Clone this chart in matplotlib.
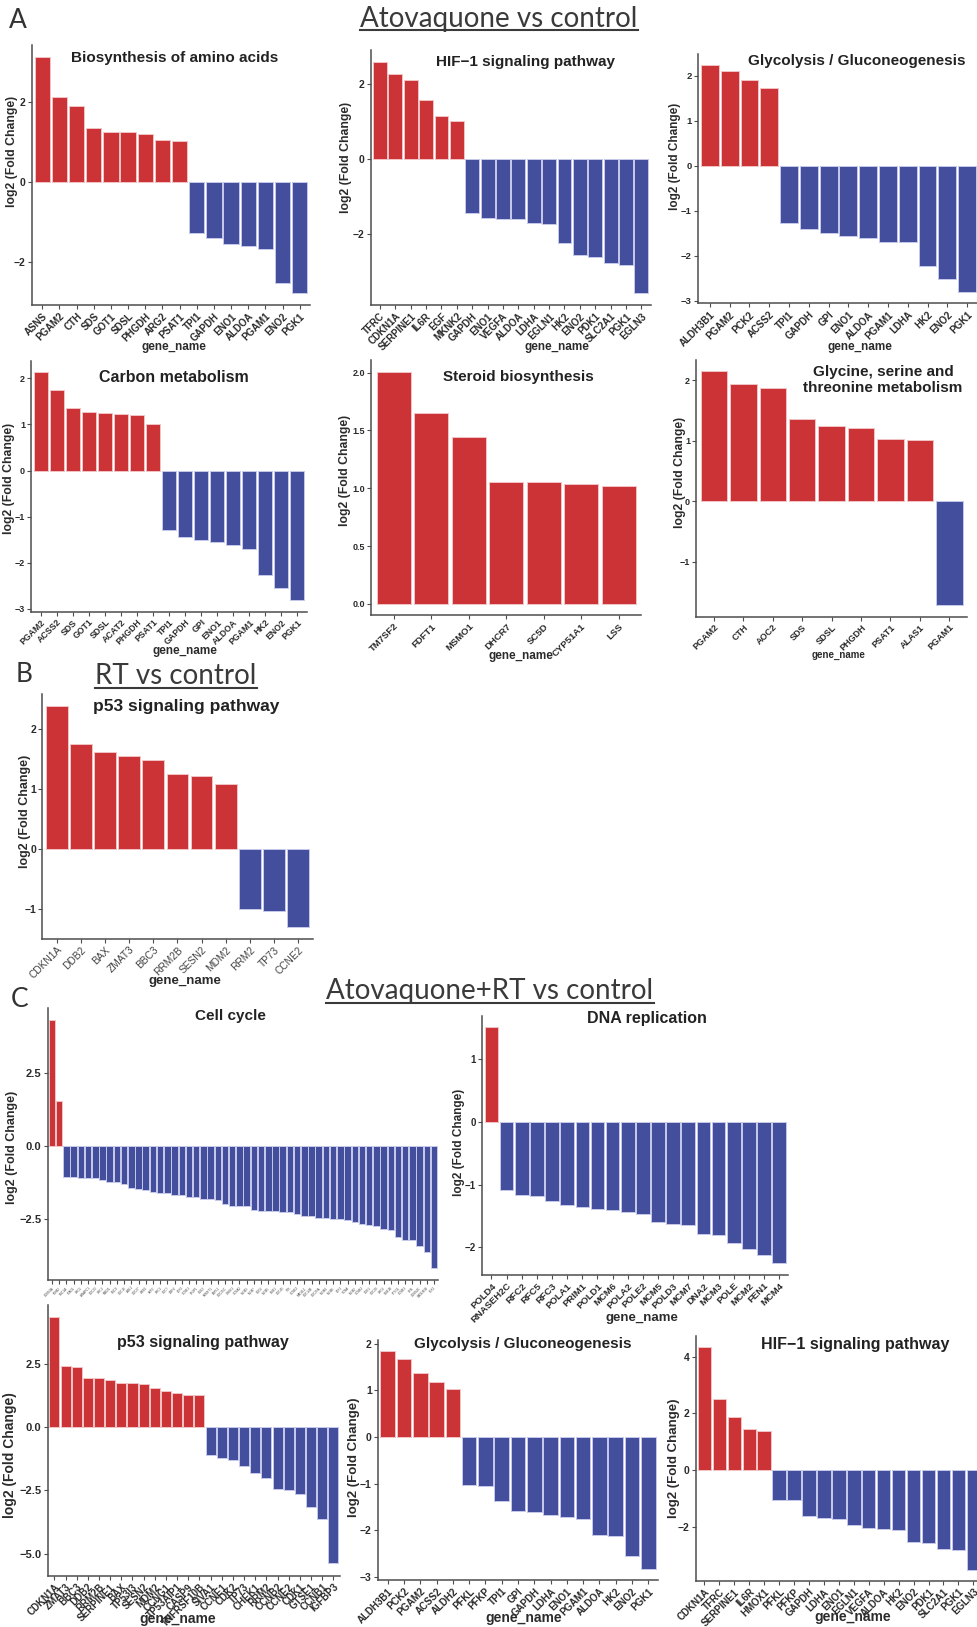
import matplotlib
matplotlib.use('Agg')
import matplotlib.pyplot as plt
from matplotlib.ticker import MultipleLocator, FuncFormatter
from matplotlib.lines import Line2D

plt.rcParams['font.family'] = ['Liberation Sans', 'DejaVu Sans']

# ---- data (log2 fold change) ----
# A: Atovaquone vs control
aa_genes = ['ASNS', 'PGAM2', 'CTH', 'SDS', 'GOT1', 'SDSL', 'PHGDH', 'ARG2', 'PSAT1',
            'TPI1', 'GAPDH', 'ENO1', 'ALDOA', 'PGAM1', 'ENO2', 'PGK1']
aa_lfc = [3.12, 2.12, 1.90, 1.34, 1.25, 1.23, 1.19, 1.03, 1.01,
          -1.28, -1.42, -1.56, -1.60, -1.68, -2.53, -2.79]

hif_genes = ['TFRC', 'CDKN1A', 'SERPINE1', 'IL6R', 'EGF', 'MKNK2', 'GAPDH', 'ENO1', 'VEGFA',
             'ALDOA', 'LDHA', 'EGLN1', 'HK2', 'ENO2', 'PDK1', 'SLC2A1', 'PGK1', 'EGLN3']
hif_lfc = [2.59, 2.25, 2.10, 1.58, 1.13, 1.01, -1.43, -1.57, -1.60,
           -1.60, -1.70, -1.73, -2.24, -2.55, -2.62, -2.77, -2.82, -3.58]

gly_genes = ['ALDH3B1', 'PGAM2', 'PCK2', 'ACSS2', 'TPI1', 'GAPDH', 'GPI', 'ENO1',
             'ALDOA', 'PGAM1', 'LDHA', 'HK2', 'ENO2', 'PGK1']
gly_lfc = [2.23, 2.11, 1.91, 1.73, -1.27, -1.42, -1.50, -1.56,
           -1.60, -1.69, -1.70, -2.24, -2.53, -2.81]

carb_genes = ['PGAM2', 'ACSS2', 'SDS', 'GOT1', 'SDSL', 'ACAT2', 'PHGDH', 'PSAT1', 'TPI1',
              'GAPDH', 'GPI', 'ENO1', 'ALDOA', 'PGAM1', 'HK2', 'ENO2', 'PGK1']
carb_lfc = [2.14, 1.75, 1.35, 1.27, 1.24, 1.23, 1.20, 1.01, -1.29,
            -1.44, -1.50, -1.56, -1.61, -1.70, -2.26, -2.55, -2.81]

ster_genes = ['TM7SF2', 'FDFT1', 'MSMO1', 'DHCR7', 'SC5D', 'CYP51A1', 'LSS']
ster_lfc = [2.006, 1.654, 1.444, 1.058, 1.054, 1.034, 1.017]

gst_genes = ['PGAM2', 'CTH', 'AOC2', 'SDS', 'SDSL', 'PHGDH', 'PSAT1', 'ALAS1', 'PGAM1']
gst_lfc = [2.15, 1.93, 1.87, 1.36, 1.25, 1.21, 1.03, 1.02, -1.71]

# B: RT vs control
rt_p53_genes = ['CDKN1A', 'DDB2', 'BAX', 'ZMAT3', 'BBC3', 'RRM2B', 'SESN2', 'MDM2',
                'RRM2', 'TP73', 'CCNE2']
rt_p53_lfc = [2.39, 1.755, 1.617, 1.55, 1.49, 1.255, 1.21, 1.09, -1.0, -1.033, -1.31]

# C: Atovaquone+RT vs control
cc_genes = ['CDKN1A', 'MDM2',
            'SMC1A', 'STAG1', 'ORC5', 'ANAPC1', 'CDC23', 'ORC2', 'RAD21', 'SMC3', 'CDC16',
            'ABL1', 'CDC27', 'WEE1', 'SKP2', 'ORC1', 'CDC7', 'DBF4', 'E2F2', 'CCNE1',
            'TFDP1', 'CDK2', 'PKMYT1', 'ESPL1', 'CDC25C', 'CHEK1', 'CCNA2', 'MCM3', 'MCM7',
            'CDC6', 'MCM5', 'BUB1', 'CDC45', 'TTK', 'CCNE2', 'MAD2L1', 'CDC14B', 'CDC25A',
            'MCM4', 'MCM6', 'E2F1', 'PCNA', 'MCM2', 'CCNB2', 'CDK1', 'CDC20', 'ORC6',
            'BUB1B', 'PTTG1', 'CCNB1', 'SFN', 'CDKN2C', 'GADD45B', 'PLK1']
cc_lfc = [4.30, 1.55,
          -1.04, -1.04, -1.07, -1.07, -1.10, -1.17, -1.21, -1.24, -1.29, -1.43,
          -1.47, -1.50, -1.55, -1.60, -1.60, -1.67, -1.67, -1.72, -1.75, -1.81,
          -1.81, -1.83, -1.96, -2.03, -2.04, -2.06, -2.18, -2.20, -2.20, -2.22,
          -2.24, -2.26, -2.31, -2.39, -2.39, -2.46, -2.47, -2.49, -2.49, -2.51,
          -2.58, -2.65, -2.69, -2.74, -2.83, -2.86, -3.11, -3.20, -3.22, -3.41,
          -3.63, -4.15]

dna_genes = ['POLD4', 'RNASEH2C', 'RFC2', 'RFC5', 'RFC3', 'POLA1', 'PRIM1', 'POLD1', 'MCM6',
             'POLA2', 'POLE2', 'MCM5', 'POLD3', 'MCM7', 'DNA2', 'MCM3', 'POLE', 'MCM2',
             'FEN1', 'MCM4']
dna_lfc = [1.50, -1.09, -1.17, -1.18, -1.26, -1.32, -1.35, -1.38, -1.41,
           -1.44, -1.47, -1.60, -1.62, -1.65, -1.78, -1.80, -1.93, -2.02,
           -2.12, -2.25]

c_p53_genes = ['CDKN1A', 'ZMAT3', 'BBC3', 'DDB2', 'RRM2B', 'SERPINE1', 'BAX', 'TP53I3',
               'SESN2', 'MDM2', 'CCNG1', 'TP53AIP1', 'CASP9', 'TNFRSF10B', 'SIVA1',
               'CCNE1', 'CDK2', 'TP73', 'CHEK1', 'RRM2', 'CCNB2', 'CCNE2', 'CDK1',
               'GTSE1', 'CCNB1', 'IGFBP3']
c_p53_lfc = [4.34, 2.43, 2.39, 1.96, 1.95, 1.88, 1.76, 1.75, 1.72, 1.56, 1.42, 1.34,
             1.275, 1.26, -1.10, -1.21, -1.28, -1.52, -1.79, -2.00, -2.44, -2.49,
             -2.65, -3.17, -3.62, -5.38]

c_gly_genes = ['ALDH3B1', 'PCK2', 'PGAM2', 'ACSS2', 'ALDH2', 'PFKL', 'PFKP', 'TPI1', 'GPI',
               'GAPDH', 'LDHA', 'ENO1', 'PGAM1', 'ALDOA', 'HK2', 'ENO2', 'PGK1']
c_gly_lfc = [1.845, 1.68, 1.367, 1.18, 1.02, -1.037, -1.05, -1.373, -1.595,
             -1.616, -1.68, -1.717, -1.76, -2.103, -2.125, -2.554, -2.833]

c_hif_genes = ['CDKN1A', 'TFRC', 'SERPINE1', 'IL6R', 'HMOX1', 'PFKL', 'PFKP', 'GAPDH',
               'LDHA', 'ENO1', 'EGLN1', 'VEGFA', 'ALDOA', 'HK2', 'ENO2', 'PDK1',
               'SLC2A1', 'PGK1', 'EGLN3']
c_hif_lfc = [4.33, 2.50, 1.87, 1.44, 1.37, -1.03, -1.03, -1.60, -1.66, -1.695,
             -1.905, -2.02, -2.07, -2.09, -2.525, -2.56, -2.77, -2.81, -3.48]

# ---- styling ----
W, H = 977, 1627
RED, BLUE = '#CB3337', '#434F9D'
RED_EDGE, BLUE_EDGE = '#F2C4C6', '#C6C9E8'
AXC = '#4d4d4d'
TXT = '#2b2b2b'

fig = plt.figure(figsize=(W / 100, H / 100), dpi=100)


def fx(x):
    return x / W


def fy(y):
    return 1 - y / H


def fmt_tick(fmt):
    def f(v, p):
        if abs(v) < 1e-9:
            v = 0.0
        return (fmt % v).replace('-', '\u2212')
    return FuncFormatter(f)


def bar_panel(box, genes, lfc, title, tpos, ylpos, xlpos, step, fmt='%d',
              tsize=11, xts=7, yts=7.5, yls=8.8, xls=8.5, xtw='bold', xtc=TXT):
    l, t, r, b = box
    ax = fig.add_axes([fx(l), fy(b), (r - l) / W, (b - t) / H])
    xs = range(len(genes))
    cols = [RED if v > 0 else BLUE for v in lfc]
    edges = [RED_EDGE if v > 0 else BLUE_EDGE for v in lfc]
    ax.bar(xs, lfc, width=0.9, color=cols, edgecolor=edges, linewidth=0.7)
    lo, hi = min(0, min(lfc)), max(0, max(lfc))
    pad = 0.05 * (hi - lo)
    ax.set_ylim(lo - pad, hi + pad)
    ax.set_xlim(-0.6, len(genes) - 0.4)

    for s in ('top', 'right'):
        ax.spines[s].set_visible(False)
    for s in ('left', 'bottom'):
        ax.spines[s].set_color(AXC)
        ax.spines[s].set_linewidth(1.1)
    ax.tick_params(colors=AXC, length=3, width=0.8, pad=1.5)
    ax.yaxis.set_major_locator(MultipleLocator(step))
    ax.yaxis.set_major_formatter(fmt_tick(fmt))
    for lab in ax.get_yticklabels():
        lab.set_fontsize(yts)
        lab.set_fontweight('bold')
        lab.set_color(TXT)
    ax.set_xticks(list(xs))
    ax.set_xticklabels(genes, rotation=45, ha='right', rotation_mode='anchor',
                       fontsize=xts, fontweight=xtw, color=xtc)

    ax.set_ylabel('log2 (Fold Change)', fontsize=yls, fontweight='bold', color=TXT,
                  va='center')
    ax.yaxis.set_label_coords(fx(ylpos[0]), fy(ylpos[1]), transform=fig.transFigure)
    ax.set_xlabel('gene_name', fontsize=xls, fontweight='bold', color=TXT, va='center')
    ax.xaxis.set_label_coords(fx(xlpos[0]), fy(xlpos[1]), transform=fig.transFigure)

    fig.text(fx(tpos[0]), fy(tpos[1]), title, ha='center', va='center', fontsize=tsize,
             fontweight='bold', color='#222222', linespacing=1.25)
    return ax


# ---- row A1 ----
bar_panel((32, 45, 310, 305), aa_genes, aa_lfc, 'Biosynthesis of amino acids',
          (175, 58), (12, 151), (174, 347), 2)
bar_panel((370.7, 50, 650.6, 305), hif_genes, hif_lfc, 'HIF\u22121 signaling pathway',
          (525, 62), (346, 157), (557, 347), 2)
bar_panel((698, 54, 979, 303.3), gly_genes, gly_lfc, 'Glycolysis / Gluconeogenesis',
          (857, 61), (675, 156), (860, 347), 1, yts=6.8, yls=8.5)

# ---- row A2 ----
bar_panel((31.3, 360.5, 306.7, 611.5), carb_genes, carb_lfc, 'Carbon metabolism',
          (174, 377), (9, 478), (185, 651), 1, tsize=11.5, xts=6.3, yts=6.5)
bar_panel((371.3, 360.4, 641.2, 615.4), ster_genes, ster_lfc, 'Steroid biosynthesis',
          (518, 377), (345, 470), (521, 656), 0.5, fmt='%.1f', tsize=11, xts=6.8,
          yts=6.5)
bar_panel((696.3, 359.5, 967, 616.5), gst_genes, gst_lfc,
          'Glycine, serine and\nthreonine metabolism',
          (883, 380), (680, 472), (839, 655), 1, tsize=11, xts=6.5, yts=6.5, xls=7)

# ---- B ----
bar_panel((42.3, 694.5, 312.6, 938.5), rt_p53_genes, rt_p53_lfc, 'p53 signaling pathway',
          (186, 707), (25, 811), (185, 981), 1, tsize=12.5, xts=7.3, xtw='normal',
          xtc='#444444', yls=9, xls=9.5)

# ---- C top ----
bar_panel((47.7, 1008, 438.4, 1280), cc_genes, cc_lfc, 'Cell cycle',
          (230, 1016), (12, 1147), (239, 1309), 2.5, fmt='%.1f', xts=2.2,
          xtw='normal', xtc='#444444', yts=8, yls=9, xls=9.5)
bar_panel((482.4, 1015.7, 788.2, 1275), dna_genes, dna_lfc, 'DNA replication',
          (647, 1018), (459, 1142), (642, 1318), 1, tsize=11.5, xts=6.8, yts=7,
          yls=8.5, xls=9.5)

# ---- C bottom ----
bar_panel((47.7, 1305, 340, 1575.7), c_p53_genes, c_p53_lfc, 'p53 signaling pathway',
          (203, 1342), (10, 1455), (178, 1619), 2.5, fmt='%.1f', tsize=11.5,
          xts=7, yts=8, yls=10, xls=10)
bar_panel((378, 1340, 658, 1580), c_gly_genes, c_gly_lfc, 'Glycolysis / Gluconeogenesis',
          (523, 1344), (354, 1457), (524, 1618), 1, tsize=11, xts=7, yts=7.5,
          yls=9.5, xls=10)
bar_panel((695.5, 1336, 982.3, 1580.7), c_hif_genes, c_hif_lfc, 'HIF\u22121 signaling pathway',
          (855, 1345), (674, 1458), (853, 1617), 2, tsize=11.5, xts=7, yts=7.5,
          yls=9.5, xls=10)

# ---- section headings and panel letters ----
renderer = fig.canvas.get_renderer()


def heading(x, ybase, yline, s):
    t = fig.text(fx(x), fy(ybase), s, ha='center', va='baseline', family='Lato',
                 fontsize=20, color='#3a3a3a')
    bb = t.get_window_extent(renderer)
    fig.add_artist(Line2D([bb.x0 / W, bb.x1 / W], [fy(yline), fy(yline)],
                          transform=fig.transFigure, color='#3a3a3a', lw=1.5))


heading(499, 26.5, 30, 'Atovaquone vs control')
heading(176, 684, 688, 'RT vs control')
heading(490, 999, 1003, 'Atovaquone+RT vs control')

for lx, ly, letter in [(18, 28, 'A'), (24, 682, 'B'), (20, 1007, 'C')]:
    fig.text(fx(lx), fy(ly), letter, ha='center', va='baseline', family='Lato',
             fontsize=19, color='#333333')

fig.savefig('out.png', dpi=100)
